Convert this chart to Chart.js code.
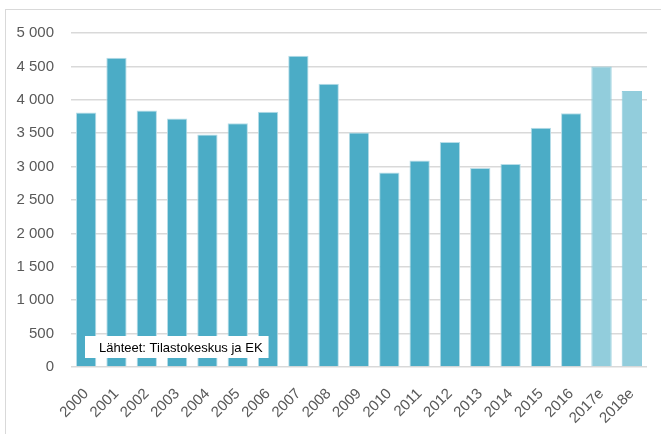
<!DOCTYPE html>
<html>
<head>
<meta charset="utf-8">
<script src="https://cdn.jsdelivr.net/npm/chart.js@4/dist/chart.umd.min.js"></script>
<style>
  html, body { margin: 0; padding: 0; background: #fff; }
  #wrap { position: relative; width: 661px; height: 434px; overflow: hidden; }
  #frame { position: absolute; left: 5px; top: 9px; width: 700px; height: 500px; border: 1px solid #d9d9d9; box-sizing: border-box; }
  canvas { position: absolute; left: 0; top: 0; }
</style>
</head>
<body>
<div id="wrap">
  <div id="frame"></div>
  <canvas id="chart" width="661" height="434"></canvas>
</div>
<script>
const years = ['2000', '2001', '2002', '2003', '2004', '2005', '2006', '2007', '2008', '2009',
  '2010', '2011', '2012', '2013', '2014', '2015', '2016', '2017e', '2018e'];
const values = [3810, 4630, 3840, 3720, 3480, 3650, 3820, 4660, 4240, 3510,
  2910, 3090, 3370, 2980, 3040, 3580, 3800, 4500, 4130];
const estimateYears = ['2017e', '2018e'];
const yTicks = [0, 500, 1000, 1500, 2000, 2500, 3000, 3500, 4000, 4500, 5000];
const sourceNote = 'Lähteet: Tilastokeskus ja EK';

const barColors = years.map(y => estimateYears.includes(y) ? '#92cddc' : '#4bacc6');
const edgeColors = years.map(y => estimateYears.includes(y) ? '#92cddc' : '#b7dde8');
const fontFamily = '"Liberation Sans", Arial, sans-serif';

// source text box in the lower left corner
const notePlugin = {
  id: 'note',
  afterDatasetsDraw(chart) {
    const ctx = chart.ctx;
    ctx.save();
    ctx.font = '13px ' + fontFamily;
    const w = ctx.measureText(sourceNote).width;
    const x = 85, y = 336, h = 22;
    ctx.fillStyle = '#fff';
    ctx.fillRect(x, y, w + 20, h);
    ctx.fillStyle = '#000';
    ctx.textBaseline = 'middle';
    ctx.fillText(sourceNote, x + 14, y + h / 2 + 1);
    ctx.restore();
  }
};

new Chart(document.getElementById('chart'), {
  type: 'bar',
  data: {
    labels: years,
    datasets: [{
      data: values,
      backgroundColor: barColors,
      borderColor: edgeColors,
      borderWidth: { top: 1, left: 1, right: 1, bottom: 0 },
      borderSkipped: 'bottom',
      barPercentage: 0.67,
      categoryPercentage: 1
    }]
  },
  options: {
    responsive: false,
    animation: false,
    layout: { padding: { left: 0, right: 14, top: 33, bottom: 0 } },
    plugins: { legend: { display: false }, tooltip: { enabled: false } },
    scales: {
      x: {
        grid: { display: false },
        border: { display: false },
        ticks: {
          color: '#595959',
          font: { family: fontFamily, size: 15 },
          maxRotation: 45,
          minRotation: 45,
          padding: 10,
          autoSkip: false
        },
        afterFit(scale) { scale.height = 67; }
      },
      y: {
        min: 0,
        max: 5000,
        afterBuildTicks(scale) { scale.ticks = yTicks.map(v => ({ value: v })); },
        grid: { color: '#d9d9d9', lineWidth: 1.5, drawTicks: false },
        border: { display: false },
        ticks: {
          color: '#595959',
          padding: 17,
          font: { family: fontFamily, size: 15 },
          callback: v => String(v).replace(/\B(?=(\d{3})+(?!\d))/g, ' ')
        },
        afterFit(scale) { scale.width = 71; }
      }
    }
  },
  plugins: [notePlugin]
});
</script>
</body>
</html>
